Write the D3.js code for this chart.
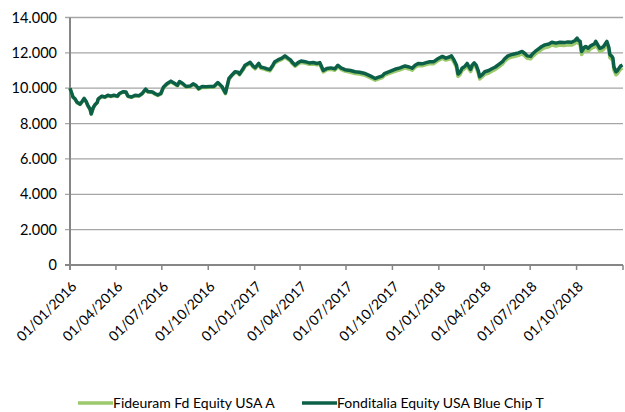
<!DOCTYPE html>
<html>
<head>
<meta charset="utf-8">
<script src="https://cdn.jsdelivr.net/npm/d3@7"></script>
<style>
  body { margin: 0; background: #fff; }
  text { font-family: Lato, "Liberation Sans", sans-serif; fill: #000; }
</style>
</head>
<body>
<div id="chart"></div>
<script>
var dates = [
  "2016-01-01","2016-01-07","2016-01-11","2016-01-15","2016-01-21","2016-01-25","2016-01-29","2016-02-02","2016-02-05","2016-02-10",
  "2016-02-12","2016-02-16","2016-02-19","2016-02-24","2016-02-26","2016-03-04","2016-03-10","2016-03-16","2016-03-22","2016-03-28",
  "2016-04-04","2016-04-08","2016-04-15","2016-04-21","2016-04-25","2016-05-02","2016-05-09","2016-05-17","2016-05-23","2016-05-30",
  "2016-06-03","2016-06-13","2016-06-17","2016-06-23","2016-06-29","2016-07-04","2016-07-11","2016-07-19","2016-07-25","2016-08-01",
  "2016-08-05","2016-08-12","2016-08-18","2016-08-26","2016-09-01","2016-09-07","2016-09-12","2016-09-19","2016-09-26","2016-10-04",
  "2016-10-12","2016-10-20","2016-10-28","2016-11-04","2016-11-09","2016-11-11","2016-11-17","2016-11-23","2016-11-29","2016-12-02",
  "2016-12-09","2016-12-13","2016-12-19","2016-12-23","2016-12-29","2017-01-02","2017-01-09","2017-01-13","2017-01-20","2017-01-25",
  "2017-01-31","2017-02-06","2017-02-10","2017-02-16","2017-02-24","2017-03-02","2017-03-08","2017-03-13","2017-03-17","2017-03-22",
  "2017-03-28","2017-04-03","2017-04-11","2017-04-19","2017-04-27","2017-05-05","2017-05-10","2017-05-17","2017-05-24","2017-06-01",
  "2017-06-09","2017-06-15","2017-06-21","2017-06-29","2017-07-10","2017-07-19","2017-07-28","2017-08-08","2017-08-18","2017-08-28",
  "2017-09-01","2017-09-11","2017-09-15","2017-09-26","2017-10-06","2017-10-16","2017-10-26","2017-11-03","2017-11-09","2017-11-15",
  "2017-11-21","2017-11-29","2017-12-07","2017-12-14","2017-12-22","2017-12-29","2018-01-08","2018-01-15","2018-01-23","2018-01-26",
  "2018-01-31","2018-02-05","2018-02-08","2018-02-12","2018-02-16","2018-02-22","2018-02-26","2018-03-02","2018-03-05","2018-03-08",
  "2018-03-12","2018-03-16","2018-03-20","2018-03-23","2018-03-29","2018-04-02","2018-04-10","2018-04-16","2018-04-23","2018-04-30",
  "2018-05-07","2018-05-11","2018-05-18","2018-05-25","2018-06-01","2018-06-08","2018-06-15","2018-06-21","2018-06-25","2018-07-02",
  "2018-07-06","2018-07-11","2018-07-19","2018-07-24","2018-07-30","2018-08-07","2018-08-13","2018-08-21","2018-08-29","2018-09-06",
  "2018-09-14","2018-09-21","2018-09-28","2018-10-02","2018-10-05","2018-10-08","2018-10-11","2018-10-16","2018-10-19","2018-10-24",
  "2018-10-29","2018-11-01","2018-11-05","2018-11-08","2018-11-12","2018-11-16","2018-11-20","2018-11-23","2018-11-30","2018-12-04",
  "2018-12-06","2018-12-10","2018-12-12","2018-12-14","2018-12-18","2018-12-21","2018-12-27","2018-12-31"
];

// Fonditalia Equity USA Blue Chip T
var fondiValues = [
  10000,9500,9400,9200,9100,9250,9420,9250,9050,8800,
  8550,8900,9050,9200,9400,9550,9500,9600,9550,9600,
  9550,9700,9800,9780,9550,9500,9600,9580,9700,9950,
  9820,9780,9700,9620,9700,10050,10250,10400,10300,10170,
  10380,10250,10100,10120,10250,10150,9980,10100,10080,10100,
  10100,10320,10100,9730,10300,10550,10750,10930,10900,10800,
  11100,11300,11400,11470,11250,11160,11400,11200,11150,11100,
  11050,11300,11500,11600,11700,11830,11700,11600,11450,11310,
  11450,11540,11500,11430,11450,11400,11450,11000,11120,11150,
  11100,11300,11150,11050,11000,10930,10900,10830,10700,10550,
  10600,10700,10830,10950,11070,11150,11260,11200,11130,11300,
  11400,11380,11450,11500,11500,11650,11800,11700,11780,11830,
  11600,11300,10800,10900,11130,11250,11400,11200,11070,11300,
  11430,11300,11000,10650,10800,10930,11000,11100,11200,11350,
  11500,11650,11830,11900,11950,12000,12080,11950,11830,11800,
  11950,12080,12250,12360,12450,12500,12600,12550,12600,12580,
  12620,12600,12700,12830,12700,12650,12080,12300,12360,12260,
  12400,12450,12500,12650,12450,12260,12300,12350,12650,12300,
  11900,11800,11700,11200,10930,11000,11250,11310
];

// Fideuram Fd Equity USA A
var fideuramValues = [
  10000,9480,9380,9180,9080,9230,9400,9230,9030,8780,
  8530,8880,9030,9180,9380,9530,9480,9580,9530,9580,
  9530,9680,9780,9760,9530,9480,9580,9560,9680,9930,
  9790,9750,9670,9590,9670,10010,10210,10360,10260,10130,
  10340,10210,10060,10080,10210,10110,9940,10060,10040,10060,
  10060,10280,10060,9690,10260,10510,10710,10890,10860,10760,
  11040,11240,11340,11410,11190,11090,11330,11130,11080,11030,
  10980,11230,11430,11530,11630,11760,11630,11530,11380,11240,
  11370,11460,11420,11350,11370,11320,11370,10920,11040,11070,
  11020,11220,11070,10970,10900,10830,10800,10730,10600,10450,
  10500,10600,10730,10850,10960,11040,11150,11090,11020,11190,
  11290,11270,11340,11390,11390,11540,11690,11590,11660,11700,
  11470,11170,10670,10770,11000,11120,11270,11070,10940,11170,
  11300,11170,10870,10520,10670,10790,10860,10960,11060,11210,
  11360,11510,11690,11760,11810,11860,11940,11810,11690,11660,
  11800,11930,12100,12200,12290,12340,12440,12390,12440,12420,
  12460,12440,12540,12660,12530,12480,11910,12130,12190,12090,
  12230,12280,12330,12480,12280,12090,12130,12180,12480,12130,
  11730,11630,11530,11030,10760,10830,11080,11140
];

var yTicks = [0, 2000, 4000, 6000, 8000, 10000, 12000, 14000];
var seriesNames = ["Fideuram Fd Equity USA A", "Fonditalia Equity USA Blue Chip T"];
var seriesColors = ["#9cc96b", "#0b6047"];

var margin = {top: 17.5, right: 2, bottom: 147, left: 70},
    width = 625 - margin.left - margin.right,
    height = 412 - margin.top - margin.bottom;

var svg = d3.select("#chart")
  .append("svg")
    .attr("width", 625)
    .attr("height", 412)
  .append("g")
    .attr("transform", "translate(" + margin.left + "," + margin.top + ")");

var parse = d3.timeParse("%Y-%m-%d");
var x = d3.scaleTime()
  .domain([parse("2016-01-01"), parse("2019-01-01")])
  .range([0, width]);
var y = d3.scaleLinear()
  .domain([0, 14000])
  .range([height, 0]);

var it = d3.formatLocale({decimal: ",", thousands: ".", grouping: [3], currency: ["€", ""]});
var fmt = it.format(",");

// gridlines
svg.selectAll(".grid")
  .data(yTicks.filter(function(d) { return d > 0; }))
  .enter().append("line")
    .attr("x1", -5).attr("x2", width)
    .attr("y1", function(d) { return y(d); })
    .attr("y2", function(d) { return y(d); })
    .style("stroke", "#a6a6a6").style("stroke-width", 1.3);

// y labels
svg.selectAll(".ylab")
  .data(yTicks)
  .enter().append("text")
    .attr("x", -13)
    .attr("y", function(d) { return y(d); })
    .attr("dy", "0.35em")
    .attr("text-anchor", "end")
    .style("font-size", "14.5px")
    .text(function(d) { return fmt(d); });

// x axis ticks
var xTicks = d3.timeMonth.every(3).range(parse("2016-01-01"), parse("2019-01-02"));
svg.selectAll(".xtick")
  .data(xTicks)
  .enter().append("line")
    .attr("x1", function(d) { return x(d); })
    .attr("x2", function(d) { return x(d); })
    .attr("y1", height).attr("y2", height + 5)
    .style("stroke", "#868686").style("stroke-width", 1.5);

var fmtDate = d3.timeFormat("%d/%m/%Y");
svg.selectAll(".xlab")
  .data(xTicks.slice(0, -1))
  .enter().append("text")
    .attr("transform", function(d) { return "translate(" + (x(d) + 4) + "," + (height + 19) + ") rotate(-45)"; })
    .attr("text-anchor", "end")
    .attr("dy", "0.35em")
    .style("font-size", "14px")
    .text(function(d) { return fmtDate(d); });

// axis lines
svg.append("line")
  .attr("x1", -5).attr("x2", width)
  .attr("y1", height).attr("y2", height)
  .style("stroke", "#868686").style("stroke-width", 2);
svg.append("line")
  .attr("x1", 0).attr("x2", 0)
  .attr("y1", 0).attr("y2", height + 5)
  .style("stroke", "#868686").style("stroke-width", 2);

// lines
var line = d3.line()
  .x(function(d) { return x(d.date); })
  .y(function(d) { return y(d.value); });

var series = [fideuramValues, fondiValues].map(function(vals) {
  return vals.map(function(v, i) { return {date: parse(dates[i]), value: v}; });
});

svg.selectAll(".series")
  .data(series)
  .enter().append("path")
    .attr("d", line)
    .style("fill", "none")
    .style("stroke", function(d, i) { return seriesColors[i]; })
    .style("stroke-width", 3.5)
    .style("stroke-linejoin", "round");

// legend
var legend = svg.selectAll(".legend")
  .data(seriesNames)
  .enter().append("g")
    .attr("transform", function(d, i) { return "translate(" + (i === 0 ? 8 : 232) + "," + (403 - margin.top) + ")"; });
legend.append("line")
  .attr("x1", 0).attr("x2", 35)
  .style("stroke", function(d, i) { return seriesColors[i]; })
  .style("stroke-width", 3.5);
legend.append("text")
  .attr("x", 35)
  .attr("dy", "0.35em")
  .style("font-size", "14px")
  .text(function(d) { return d; });
</script>
</body>
</html>
